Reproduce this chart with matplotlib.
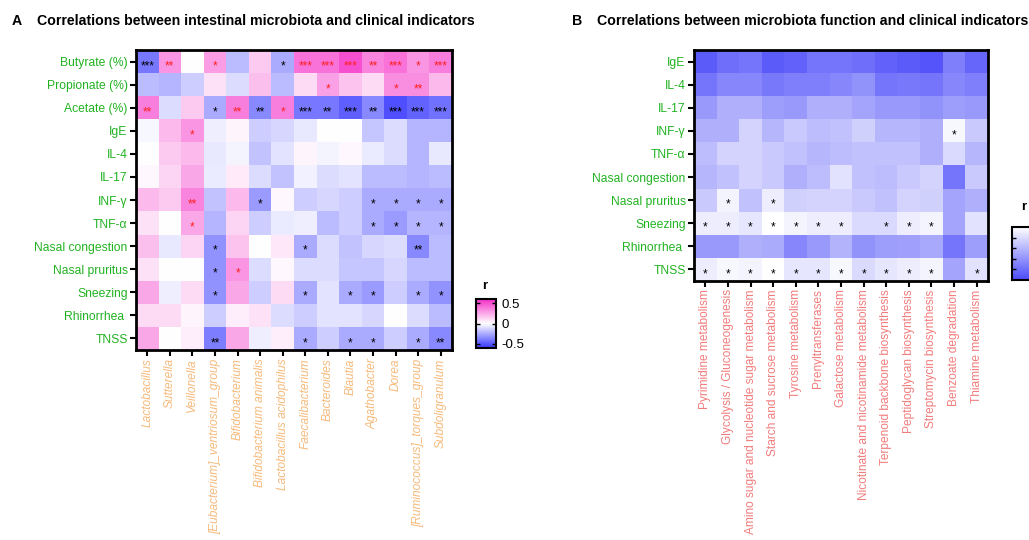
import numpy as np
import matplotlib.pyplot as plt
from matplotlib.colors import LinearSegmentedColormap

plt.rcParams['font.family'] = ['Liberation Sans', 'DejaVu Sans']
plt.rcParams['axes.unicode_minus'] = False

# panel A data
indicators_a = ['Butyrate (%)', 'Propionate (%)', 'Acetate (%)', 'IgE', 'IL-4', 'IL-17',
                'INF-γ', 'TNF-α', 'Nasal congestion', 'Nasal pruritus', 'Sneezing',
                'Rhinorrhea ', 'TNSS']
taxa = ['Lactobacillus', 'Sutterella', 'Veillonella', '[Eubacterium]_ventriosum_group',
        'Bifidobacterium', 'Bifidobacterium animalis', 'Lactobacillus acidophilus',
        'Faecalibacterium', 'Bacteroides', 'Blautia', 'Agathobacter', 'Dorea',
        '[Ruminococcus]_torques_group', 'Subdoligranulum']
r_taxa = np.array([
    [-0.40, 0.30, 0.00, 0.28, -0.20, 0.15, -0.25, 0.40, 0.40, 0.50, 0.35, 0.40, 0.30, 0.37],
    [-0.20, -0.22, -0.15, 0.08, -0.10, 0.18, -0.20, 0.10, 0.27, 0.17, 0.10, 0.32, 0.32, 0.20],
    [0.37, -0.10, 0.15, -0.25, 0.37, -0.35, 0.37, -0.40, -0.40, -0.47, -0.35, -0.52, -0.46, -0.42],
    [-0.02, 0.20, 0.30, -0.05, 0.03, -0.15, -0.12, -0.07, 0.00, 0.00, -0.17, -0.10, -0.22, -0.22],
    [0.00, 0.15, 0.20, -0.07, -0.03, -0.18, -0.08, 0.03, -0.03, 0.02, -0.06, -0.10, -0.22, -0.07],
    [0.02, 0.12, 0.25, -0.06, 0.06, -0.10, -0.18, -0.04, -0.10, -0.08, -0.20, -0.20, -0.22, -0.20],
    [0.20, 0.15, 0.35, -0.18, 0.20, -0.30, 0.02, -0.15, -0.12, -0.15, -0.25, -0.25, -0.25, -0.25],
    [0.08, 0.00, 0.25, -0.22, 0.12, -0.15, -0.06, -0.05, -0.20, -0.15, -0.25, -0.30, -0.22, -0.22],
    [0.18, -0.07, 0.12, -0.32, 0.17, 0.00, 0.07, -0.25, -0.10, -0.18, -0.12, -0.10, -0.35, -0.20],
    [0.08, 0.00, 0.00, -0.32, 0.30, -0.10, 0.02, -0.10, -0.10, -0.17, -0.17, -0.12, -0.20, -0.20],
    [0.25, -0.05, 0.10, -0.32, 0.25, -0.15, 0.10, -0.25, -0.08, -0.25, -0.30, -0.15, -0.25, -0.32],
    [0.10, 0.10, 0.03, -0.15, 0.05, 0.08, -0.10, -0.15, -0.08, -0.08, -0.12, 0.00, -0.10, -0.20],
    [0.25, 0.00, 0.05, -0.38, 0.25, -0.05, 0.05, -0.25, -0.15, -0.25, -0.25, -0.15, -0.25, -0.35],
])
sig_taxa = [
    ['***', '**', '', '*', '', '', '*', '***', '***', '***', '**', '***', '*', '***'],
    ['', '', '', '', '', '', '', '', '*', '', '', '*', '**', ''],
    ['**', '', '', '*', '**', '**', '*', '***', '**', '***', '**', '***', '***', '***'],
    ['', '', '*', '', '', '', '', '', '', '', '', '', '', ''],
    [''] * 14,
    [''] * 14,
    ['', '', '**', '', '', '*', '', '', '', '', '*', '*', '*', '*'],
    ['', '', '*', '', '', '', '', '', '', '', '*', '*', '*', '*'],
    ['', '', '', '*', '', '', '', '*', '', '', '', '', '**', ''],
    ['', '', '', '*', '*', '', '', '', '', '', '', '', '', ''],
    ['', '', '', '*', '', '', '', '*', '', '*', '*', '', '*', '*'],
    [''] * 14,
    ['', '', '', '**', '', '', '', '*', '', '*', '*', '', '*', '**'],
]

# panel B data
indicators_b = ['IgE', 'IL-4', 'IL-17', 'INF-γ', 'TNF-α', 'Nasal congestion',
                'Nasal pruritus', 'Sneezing', 'Rhinorrhea ', 'TNSS']
pathways = ['Pyrimidine metabolism', 'Glycolysis / Gluconeogenesis',
            'Amino sugar and nucleotide sugar metabolism', 'Starch and sucrose metabolism',
            'Tyrosine metabolism', 'Prenyltransferases', 'Galactose metabolism',
            'Nicotinate and nicotinamide metabolism', 'Terpenoid backbone biosynthesis',
            'Peptidoglycan biosynthesis', 'Streptomycin biosynthesis',
            'Benzoate degradation', 'Thiamine metabolism']
r_path = np.array([
    [-0.45, -0.40, -0.38, -0.45, -0.43, -0.38, -0.38, -0.40, -0.43, -0.45, -0.47, -0.35, -0.42],
    [-0.38, -0.33, -0.33, -0.37, -0.35, -0.35, -0.33, -0.30, -0.38, -0.37, -0.38, -0.33, -0.35],
    [-0.28, -0.22, -0.22, -0.27, -0.28, -0.22, -0.22, -0.25, -0.28, -0.28, -0.30, -0.27, -0.28],
    [-0.22, -0.22, -0.12, -0.20, -0.15, -0.18, -0.17, -0.13, -0.20, -0.20, -0.22, -0.02, -0.15],
    [-0.18, -0.12, -0.12, -0.15, -0.17, -0.20, -0.18, -0.17, -0.17, -0.17, -0.22, -0.10, -0.20],
    [-0.20, -0.17, -0.12, -0.15, -0.22, -0.18, -0.08, -0.17, -0.18, -0.15, -0.12, -0.38, -0.15],
    [-0.15, -0.03, -0.17, -0.05, -0.13, -0.12, -0.12, -0.15, -0.17, -0.12, -0.13, -0.25, -0.22],
    [-0.05, -0.05, -0.07, 0.00, -0.03, -0.05, -0.05, -0.10, -0.10, -0.05, -0.03, -0.25, -0.08],
    [-0.28, -0.28, -0.22, -0.23, -0.33, -0.28, -0.21, -0.30, -0.27, -0.26, -0.24, -0.38, -0.27],
    [-0.05, -0.02, -0.03, 0.00, -0.07, -0.07, -0.02, -0.10, -0.07, -0.05, -0.03, -0.25, -0.08],
])
sig_path = [
    [''] * 13,
    [''] * 13,
    [''] * 13,
    [''] * 11 + ['*', ''],
    [''] * 13,
    [''] * 13,
    ['', '*', '', '*'] + [''] * 9,
    ['*'] * 7 + [''] + ['*'] * 3 + ['', ''],
    [''] * 13,
    ['*'] * 11 + ['', '*'],
]

green = '#22b322'
cmap_a = LinearSegmentedColormap.from_list('pw', ['#3535ff', '#ffffff', '#f52ec8'])
cmap_b = LinearSegmentedColormap.from_list('bw', ['#4a4afa', '#ffffff'])

fig = plt.figure(figsize=(10.29, 5.4), dpi=100)


def heat(ax, data, sig, rows, cols, cmap, vmin, vmax, xcolor, italic):
    im = ax.imshow(data, cmap=cmap, vmin=vmin, vmax=vmax, aspect='auto',
                   interpolation='nearest')
    ax.set_xticks(range(len(cols)))
    ax.set_xticklabels(cols, rotation=90, color=xcolor, fontsize=8.6,
                       fontstyle='italic' if italic else 'normal')
    ax.set_yticks(range(len(rows)))
    ax.set_yticklabels(rows, color=green, fontsize=8.7)
    ax.tick_params(length=4, width=1.5, color='black', pad=2)
    for s in ax.spines.values():
        s.set_linewidth(2)
    for i in range(len(rows)):
        for j in range(len(cols)):
            if sig[i][j]:
                c = '#ff2020' if data[i, j] > 0 else 'black'
                ax.text(j, i + 0.2, sig[i][j], ha='center', va='center',
                        color=c, fontsize=8.5)
    return im


ax_a = fig.add_axes([136 / 1029, 1 - 350 / 540, 316 / 1029, 300 / 540])
im_a = heat(ax_a, r_taxa, sig_taxa, indicators_a, taxa, cmap_a, -0.6, 0.6,
            '#f6ba7c', True)

ax_b = fig.add_axes([694 / 1029, 1 - 281 / 540, 294 / 1029, 231 / 540])
im_b = heat(ax_b, r_path, sig_path, indicators_b, pathways, cmap_b, -0.5, 0.0,
            '#f27c7c', False)

cax_a = fig.add_axes([476 / 1029, 1 - 348 / 540, 20 / 1029, 49 / 540])
cb_a = fig.colorbar(im_a, cax=cax_a, ticks=[0.5, 0, -0.5])
cb_a.ax.set_yticklabels(['0.5', '0', '-0.5'])
cb_a.outline.set_linewidth(1.5)
cax_a.tick_params(direction='in', length=3, width=1, left=True, right=True,
                  labelsize=9.5, pad=4)

cax_b = fig.add_axes([1012 / 1029, 1 - 280 / 540, 22 / 1029, 53 / 540])
cb_b = fig.colorbar(im_b, cax=cax_b, ticks=[-0.4, -0.3, -0.2, -0.1])
cb_b.outline.set_linewidth(1.5)
cax_b.tick_params(direction='in', length=3, width=1, left=True, right=True,
                  labelright=False)

fig.text(482 / 1029, 1 - 286 / 540, 'r', fontsize=9.5, fontweight='bold',
         ha='left', va='center')
fig.text(1021 / 1029, 1 - 207 / 540, 'r', fontsize=9.5, fontweight='bold',
         ha='left', va='center')

fig.text(12 / 1029, 1 - 21 / 540, 'A', fontsize=10.2, fontweight='bold', va='center')
fig.text(37 / 1029, 1 - 21 / 540,
         'Correlations between intestinal microbiota and clinical indicators',
         fontsize=10.2, fontweight='bold', va='center')
fig.text(572 / 1029, 1 - 21 / 540, 'B', fontsize=10.2, fontweight='bold', va='center')
fig.text(597 / 1029, 1 - 21 / 540,
         'Correlations between microbiota function and clinical indicators',
         fontsize=10.2, fontweight='bold', va='center')

fig.savefig('out.png', dpi=100)
